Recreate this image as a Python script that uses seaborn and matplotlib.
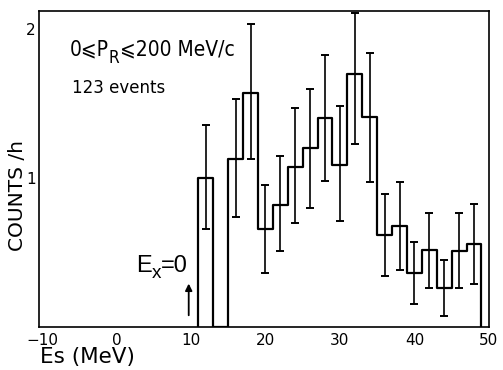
#%%
import numpy as np
import pandas as pd
import seaborn as sns
from matplotlib import pyplot as plt

#%%
# histogram, 2 MeV bins from 11 to 49 MeV
bin_edges = [11, 13, 15, 17, 19, 21, 23, 25, 27, 29, 31, 33, 35, 37, 39, 41, 43, 45, 47, 49]
bin_centers = [12, 14, 16, 18, 20, 22, 24, 26, 28, 30, 32, 34, 36, 38, 40, 42, 44, 46, 48]
counts = [1.00, 0.0, 1.13, 1.57, 0.66, 0.82, 1.075, 1.20, 1.40, 1.09, 1.70, 1.41,
        0.62, 0.68, 0.36, 0.515, 0.26, 0.507, 0.56]
err_top = [1.353, np.nan, 1.527, 2.03, 0.953, 1.147, 1.467, 1.60, 1.827, 1.48, 2.11, 1.84,
        0.893, 0.973, 0.567, 0.762, 0.449, 0.762, 0.822]
err_bot = [0.655, np.nan, 0.74, 1.13, 0.36, 0.513, 0.70, 0.80, 0.98, 0.71, 1.23, 0.973,
        0.34, 0.385, 0.153, 0.262, 0.073, 0.262, 0.287]

x_ticks = [-10, 0, 10, 20, 30, 40, 50]
y_ticks = [1, 2]

hist_df = pd.DataFrame({'es': bin_centers, 'counts': counts,
        'err_top': err_top, 'err_bot': err_bot})

#%%
def sub_text(ax, x, y, parts, size, sub_scale=0.72, drop=5, **kw):
        # chain of (text, is_subscript) pieces, each one placed after the last
        prev = ax.text(x, y, parts[0][0], fontsize=size, color='black',
                va='baseline', **kw)
        prev_sub = False
        for txt, is_sub in parts[1:]:
                if is_sub:
                        prev = ax.annotate(txt, xy=(1, 0), xycoords=prev,
                                xytext=(0, -drop), textcoords='offset points',
                                fontsize=size * sub_scale, color='black',
                                va='bottom', **kw)
                else:
                        prev = ax.annotate(txt, xy=(1, 0), xycoords=prev,
                                xytext=(0, drop if prev_sub else 0),
                                textcoords='offset points', fontsize=size,
                                color='black', va='bottom', **kw)
                prev_sub = is_sub
        return prev

#%%
sns.set_theme(style="white")
plt.rcParams['font.family'] = ['DejaVu Sans']

fig = plt.figure(figsize=(5.03, 3.70), dpi=100)
ax = fig.add_axes([0.0775, 0.1162, 0.8945, 0.8540])

sns.histplot(data=hist_df, x='es', weights='counts', bins=bin_edges,
        element='step', fill=False, color='black', linewidth=1.6, ax=ax)
# close the outline down to the baseline at both ends
ax.vlines([bin_edges[0], bin_edges[-1]], 0, [counts[0], counts[-1]],
        color='black', linewidth=1.6)

ok = hist_df.dropna()
ax.errorbar(ok['es'], ok['counts'],
        yerr=[ok['counts'] - ok['err_bot'], ok['err_top'] - ok['counts']],
        fmt='none', ecolor='black', elinewidth=1.2, capsize=3, capthick=1.4)

ax.set_xlim(-10.4, 50)
ax.set_ylim(0, 2.12)
ax.set_xticks(x_ticks)
ax.set_yticks(y_ticks)
ax.tick_params(axis='both', direction='out', length=2, width=1, labelsize=11,
        colors='black')
ax.tick_params(axis='x', pad=2)
ax.tick_params(axis='y', pad=0.5)
for sp in ax.spines.values():
        sp.set_color('black')
        sp.set_linewidth(1.2)

ax.set_xlabel('Es (MeV)', loc='left', fontsize=15.5, color='black')
ax.xaxis.set_label_coords(0.003, -0.064)
ax.set_ylabel('COUNTS /h', fontsize=14.5, color='black')
ax.yaxis.set_label_coords(-0.026, 0.415)

sub_text(ax, -6.25, 1.825, [('0⩽P', False), ('R', True), ('⩽200 MeV/c', False)],
        15, sub_scale=0.82, drop=6, fontstretch='condensed')
ax.text(-5.98, 1.57, '123 events', fontsize=12, color='black', va='baseline')
sub_text(ax, 2.6, 0.37, [('E', False), ('x', True), ('=0', False)],
        17, sub_scale=0.8, drop=3.5, family=['Liberation Sans', 'DejaVu Sans'])
ax.annotate('', xy=(9.7, 0.31), xytext=(9.7, 0.06),
        arrowprops=dict(arrowstyle='-|>', color='black', lw=1.3,
                mutation_scale=10))

plt.savefig('out.png', dpi=100)
